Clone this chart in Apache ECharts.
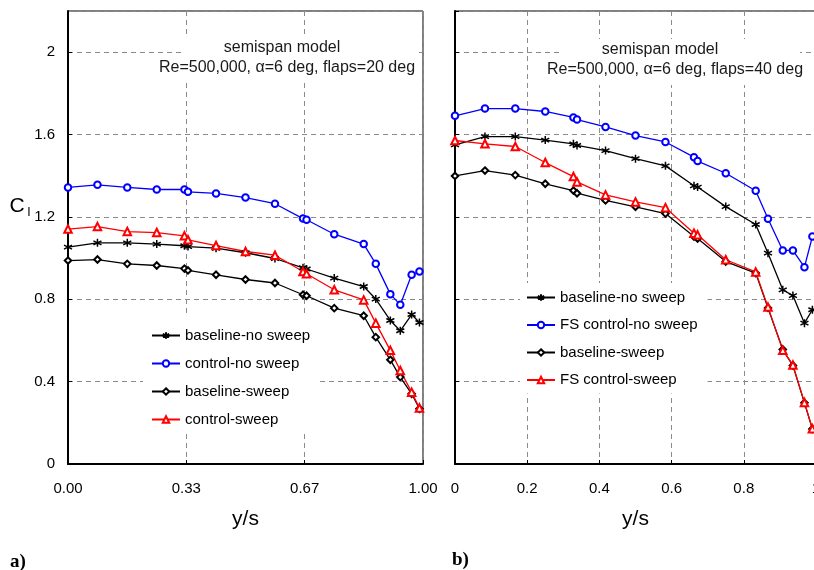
<!DOCTYPE html>
<html>
<head>
<meta charset="utf-8">
<script src="https://cdn.jsdelivr.net/npm/echarts@6/dist/echarts.min.js"></script>
<style>
  html, body { margin: 0; padding: 0; background: #fff; overflow: hidden; }
  #chart { width: 814px; height: 570px; }
</style>
</head>
<body>
<div id="chart"></div>
<script>
// Spanwise stations (y/s) shared by every series
const spanStations = [0, 0.083, 0.167, 0.25, 0.328, 0.338, 0.417, 0.5, 0.583, 0.662, 0.672, 0.75, 0.833, 0.867, 0.908, 0.936, 0.968, 0.99];

// Panel a) flaps = 20 deg
const a_baselineNoSweep = [1.053, 1.074, 1.074, 1.068, 1.060, 1.056, 1.048, 1.026, 0.998, 0.953, 0.947, 0.903, 0.862, 0.801, 0.697, 0.647, 0.726, 0.687];
const a_controlNoSweep  = [1.343, 1.356, 1.343, 1.333, 1.333, 1.322, 1.314, 1.294, 1.264, 1.192, 1.186, 1.116, 1.068, 0.972, 0.825, 0.773, 0.919, 0.935];
const a_baselineSweep   = [0.988, 0.993, 0.972, 0.964, 0.949, 0.940, 0.919, 0.896, 0.879, 0.822, 0.817, 0.757, 0.720, 0.616, 0.506, 0.422, 0.341, 0.268];
const a_controlSweep    = [1.141, 1.153, 1.129, 1.124, 1.108, 1.089, 1.061, 1.032, 1.014, 0.935, 0.924, 0.846, 0.797, 0.684, 0.552, 0.454, 0.349, 0.272];

// Panel b) flaps = 40 deg
const b_baselineNoSweep  = [1.550, 1.590, 1.590, 1.573, 1.555, 1.547, 1.522, 1.483, 1.448, 1.351, 1.345, 1.250, 1.163, 1.024, 0.846, 0.818, 0.684, 0.749];
const b_fsControlNoSweep = [1.691, 1.726, 1.726, 1.712, 1.683, 1.673, 1.637, 1.595, 1.564, 1.490, 1.471, 1.412, 1.327, 1.191, 1.037, 1.037, 0.956, 1.105];
const b_baselineSweep    = [1.399, 1.425, 1.403, 1.361, 1.328, 1.315, 1.280, 1.249, 1.216, 1.105, 1.095, 0.983, 0.927, 0.758, 0.556, 0.478, 0.297, 0.170];
const b_fsControlSweep   = [1.571, 1.555, 1.542, 1.464, 1.396, 1.370, 1.307, 1.273, 1.245, 1.121, 1.113, 0.992, 0.933, 0.762, 0.552, 0.481, 0.299, 0.171];

const legendA = ['baseline-no sweep', 'control-no sweep', 'baseline-sweep', 'control-sweep'];
const legendB = ['baseline-no sweep', 'FS control-no sweep', 'baseline-sweep', 'FS control-sweep'];

const FONT = '"Liberation Sans", Arial, Helvetica, sans-serif';
const ASTERISK = 'path://M0,-5L0,5M-4.33,-2.5L4.33,2.5M-4.33,2.5L4.33,-2.5';

const pairs = (ys) => spanStations.map((x, i) => [x, ys[i]]);

function lineSeries(name, ys, idx, color, symbol, size, bw) {
  return {
    name: name,
    type: 'line',
    xAxisIndex: idx,
    yAxisIndex: idx,
    data: pairs(ys),
    symbol: symbol,
    symbolSize: size,
    showAllSymbol: true,
    animation: false,
    lineStyle: { color: color, width: 1.3 },
    itemStyle: { color: color, borderColor: color, borderWidth: bw }
  };
}

const gridDash = { color: '#8a8a8a', width: 1, type: [5, 4] };

function xAxis(idx, interval, fmt) {
  return {
    type: 'value', gridIndex: idx, min: 0, max: 1, interval: interval,
    axisLine: { show: true, onZero: false, lineStyle: { color: '#000', width: 2 } },
    axisTick: { show: true, inside: true, length: 4, lineStyle: { color: '#000' } },
    axisLabel: { margin: 17, fontSize: 15, color: '#000', fontFamily: FONT, formatter: fmt },
    splitLine: { show: true, lineStyle: gridDash },
    name: 'y/s', nameLocation: 'middle', nameGap: 45,
    nameTextStyle: { fontSize: 21, color: '#000', fontFamily: FONT }
  };
}

function yAxis(idx, showLabels) {
  return {
    type: 'value', gridIndex: idx, min: 0, max: 2.2, interval: 0.4,
    axisLine: { show: true, onZero: false, lineStyle: { color: '#000', width: 2 } },
    axisTick: { show: true, inside: true, length: 4, lineStyle: { color: '#000' } },
    axisLabel: { show: showLabels, showMaxLabel: false, margin: 13, fontSize: 15, color: '#000', fontFamily: FONT },
    splitLine: { show: true, lineStyle: gridDash }
  };
}

function legend(names, left, top, padding, gap) {
  return {
    data: names, orient: 'vertical', left: left, top: top, padding: padding,
    backgroundColor: '#fff', itemWidth: 28, itemHeight: 8, itemGap: gap,
    selectedMode: false,
    textStyle: { fontSize: 15, color: '#000', fontFamily: FONT }
  };
}

function boxText(x, y, text) {
  return {
    type: 'text', x: x, y: y, z: 6,
    style: { text: text, fill: '#1a1a1a', font: '16px ' + FONT, textAlign: 'center', textVerticalAlign: 'middle' }
  };
}
function whiteRect(x, y, w, h) {
  return { type: 'rect', z: 5, shape: { x: x, y: y, width: w, height: h }, style: { fill: '#fff' } };
}

const chart = echarts.init(document.getElementById('chart'), null, { renderer: 'canvas' });
chart.setOption({
  animation: false,
  backgroundColor: '#fff',
  grid: [
    { left: 68, top: 11, width: 355, height: 453, outerBoundsMode: 'none', containLabel: false, show: true, borderColor: '#000', borderWidth: 1, backgroundColor: 'transparent' },
    { left: 455, top: 11, width: 361, height: 453, outerBoundsMode: 'none', containLabel: false, show: true, borderColor: '#000', borderWidth: 1, backgroundColor: 'transparent' }
  ],
  xAxis: [
    xAxis(0, 1 / 3, (v) => v.toFixed(2)),
    xAxis(1, 0.2, (v) => String(Math.round(v * 10) / 10))
  ],
  yAxis: [yAxis(0, true), yAxis(1, false)],
  legend: [
    legend(legendA, 143, 313, [15, 10, 4, 8], 13),
    legend(legendB, 520, 283, [7, 10, 6, 6], 12.5)
  ],
  series: [
    lineSeries(legendA[0], a_baselineNoSweep, 0, '#000', ASTERISK, 8, 1.5),
    lineSeries(legendA[1], a_controlNoSweep, 0, '#0000ff', 'emptyCircle', 6.5, 1.2),
    lineSeries(legendA[2], a_baselineSweep, 0, '#000', 'emptyDiamond', 6.5, 1.2),
    lineSeries(legendA[3], a_controlSweep, 0, '#ff0000', 'emptyTriangle', 7.5, 1.2),
    lineSeries(legendB[0], b_baselineNoSweep, 1, '#000', ASTERISK, 8, 1.5),
    lineSeries(legendB[1], b_fsControlNoSweep, 1, '#0000ff', 'emptyCircle', 6.5, 1.2),
    lineSeries(legendB[2], b_baselineSweep, 1, '#000', 'emptyDiamond', 6.5, 1.2),
    lineSeries(legendB[3], b_fsControlSweep, 1, '#ff0000', 'emptyTriangle', 7.5, 1.2)
  ],
  graphic: [
    // annotation boxes
    whiteRect(182, 38, 234, 21),
    whiteRect(150, 58, 270, 25),
    boxText(282, 48, 'semispan model'),
    boxText(287, 68, 'Re=500,000, α=6 deg, flaps=20 deg'),
    whiteRect(563, 39, 237, 21),
    whiteRect(540, 60, 272, 25),
    boxText(660, 50, 'semispan model'),
    boxText(675, 70, 'Re=500,000, α=6 deg, flaps=40 deg'),
    // lift coefficient label
    { type: 'text', x: 17, y: 206, style: { text: 'C', fill: '#000', font: '21px ' + FONT, textAlign: 'center', textVerticalAlign: 'middle' } },
    { type: 'text', x: 29, y: 212, style: { text: 'l', fill: '#000', font: '13px ' + FONT, textAlign: 'center', textVerticalAlign: 'middle' } },
    // panel tags
    { type: 'text', x: 10, y: 562, style: { text: 'a)', fill: '#000', font: 'bold 19px "Liberation Serif", "Times New Roman", serif', textAlign: 'left', textVerticalAlign: 'middle' } },
    { type: 'text', x: 452, y: 560, style: { text: 'b)', fill: '#000', font: 'bold 19px "Liberation Serif", "Times New Roman", serif', textAlign: 'left', textVerticalAlign: 'middle' } }
  ]
});
</script>
</body>
</html>
